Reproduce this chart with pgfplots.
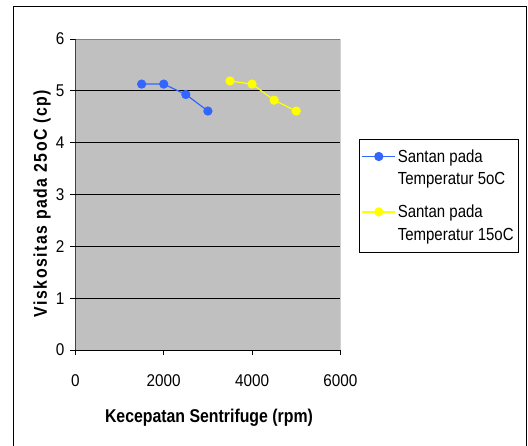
\documentclass[border=0pt]{standalone}
\usepackage{fontspec}
\setmainfont{Liberation Sans}[FakeStretch=0.857]
\newfontfamily\tickfont{Liberation Sans}[FakeStretch=0.9]
\usepackage{pgfplots}
\pgfplotsset{compat=1.18}
\definecolor{plotbg}{RGB}{192,192,192}
\definecolor{frameg}{RGB}{128,128,128}
\definecolor{serblue}{RGB}{51,102,255}
\definecolor{seryellow}{RGB}{255,255,0}
\begin{document}
\fontsize{17.5}{22.6}\selectfont
\begin{tikzpicture}[x=1pt,y=1pt]
\useasboundingbox (0,0) rectangle (528,445);
\draw[black, line width=1pt] (13,438.3) rectangle (526.3,-10);
\begin{axis}[
  at={(75.4pt,95pt)}, anchor=south west,
  scale only axis, width=265pt, height=311pt,
  xmin=0, xmax=6000, ymin=0, ymax=6,
  xtick={0,2000,4000,6000}, ytick={0,1,...,6},
  scaled x ticks=false,
  /pgf/number format/assume math mode=true,
  /pgf/number format/1000 sep={},
  tick label style={font=\tickfont\fontsize{17}{20}\selectfont},
  xticklabel style={yshift=-13.5pt},
  yticklabel style={xshift=0pt},
  tick align=outside, major tick length=5pt,
  xtick pos=bottom, ytick pos=left,
  tick style={black, line width=0.8pt},
  axis line style={draw=none},
  axis background/.style={fill=plotbg},
  ymajorgrids, major grid style={black, line width=0.8pt},
  xlabel={\bfseries Kecepatan Sentrifuge (rpm)},
  ylabel={\bfseries\addfontfeature{LetterSpace=8}Viskositas pada 25oC (cp)},
  label style={font=\fontsize{18.5}{22}\selectfont},
  xlabel style={at={(axis description cs:0.504,-0.219)}, anchor=center},
  ylabel style={at={(axis description cs:-0.126,0.471)}, anchor=center},
  legend style={at={(1.07,0.678)}, anchor=north west, draw=black, line width=0.8pt, fill=white,
    font=\fontsize{17.5}{22.6}\selectfont, cells={align=left},
    inner xsep=2.5pt, inner ysep=8pt, row sep=13.5pt,
    nodes={inner xsep=2pt, inner ysep=2pt}},
  legend cell align=left,
  legend image code/.code={\draw[mark repeat=2,mark phase=2,#1] plot coordinates {(0pt,12pt)(16.35pt,12pt)(32.7pt,12pt)};},
]
\addplot[serblue, line width=1.2pt, mark=*, mark size=4pt, mark options={fill=serblue, draw=serblue}]
  coordinates {(1500,5.13) (2000,5.13) (2500,4.93) (3000,4.61)};
\addlegendentry{Santan pada\\Temperatur 5oC}
\addplot[seryellow, line width=1.2pt, mark=*, mark size=4pt, mark options={fill=seryellow, draw=seryellow}]
  coordinates {(3500,5.19) (4000,5.13) (4500,4.82) (5000,4.61)};
\addlegendentry{Santan pada\\Temperatur 15oC}
\draw[frameg, line width=1pt] (rel axis cs:0,1) -- (rel axis cs:1,1) -- (rel axis cs:1,0);
\draw[black, line width=1pt] (rel axis cs:0,1) -- (rel axis cs:0,0) -- (rel axis cs:1,0);
\end{axis}
\end{tikzpicture}
\end{document}
